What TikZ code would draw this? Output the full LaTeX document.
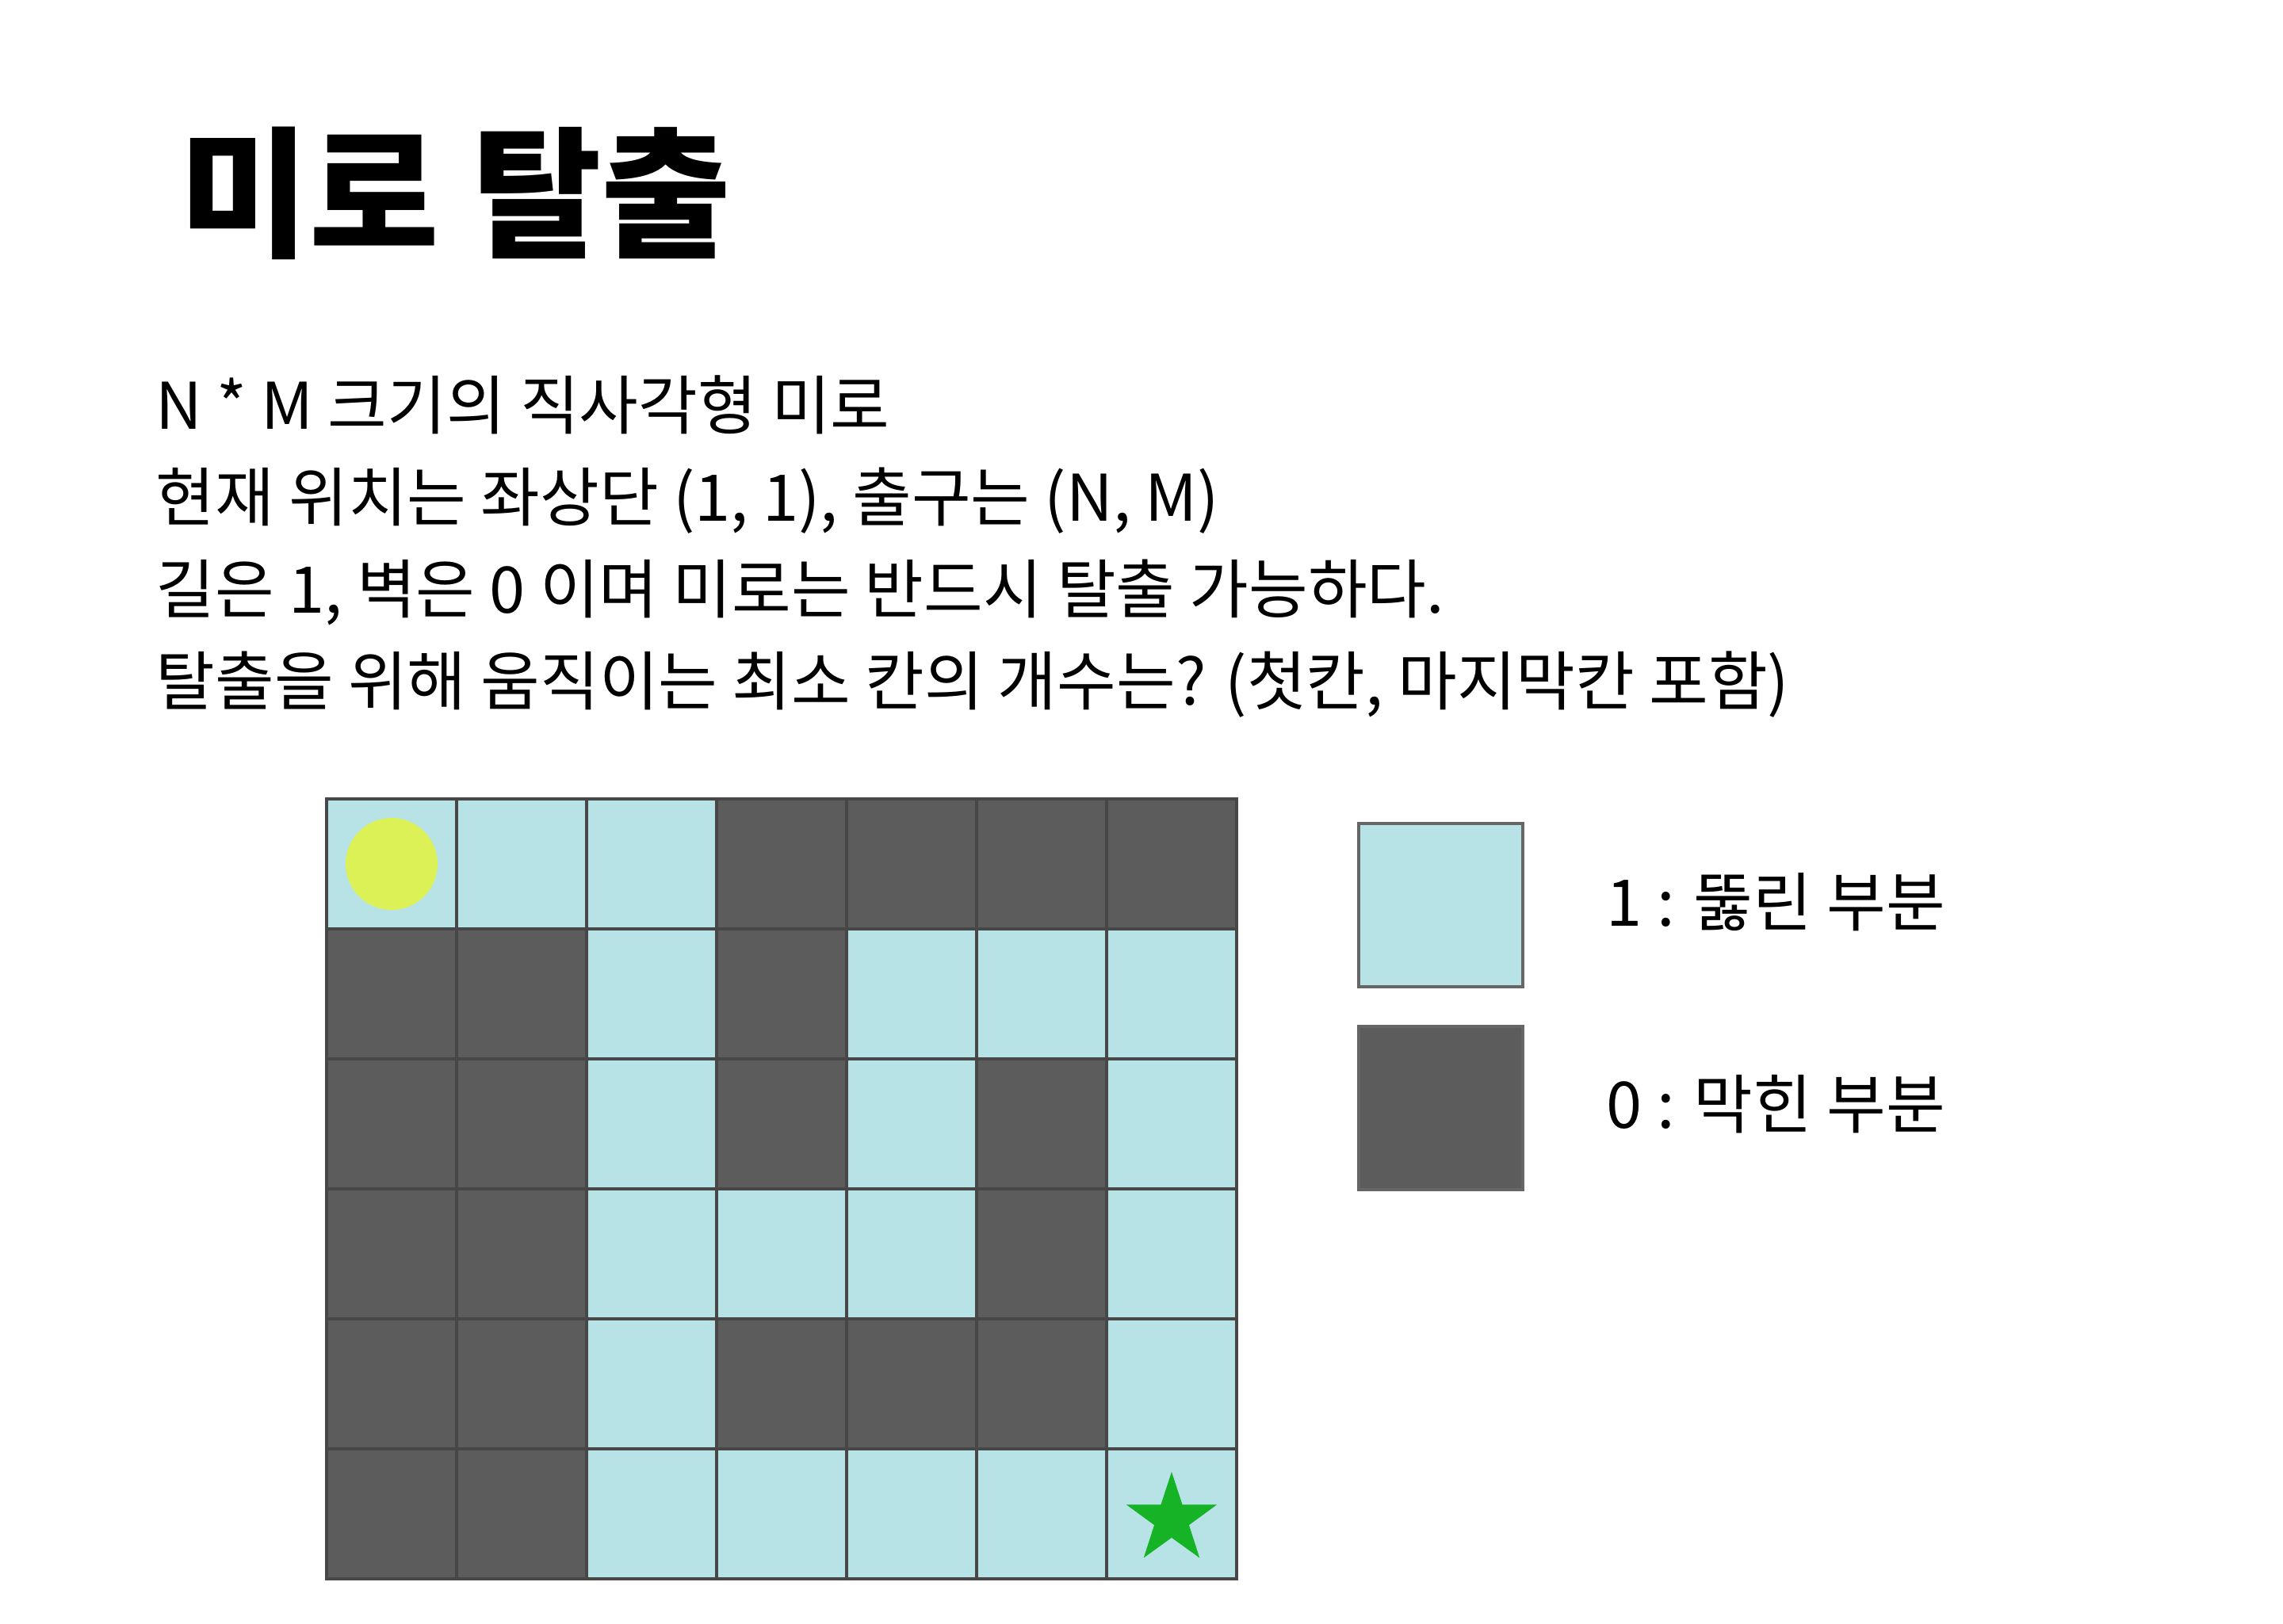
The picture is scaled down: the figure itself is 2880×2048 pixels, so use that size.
\documentclass[tikz,border=0pt]{standalone}
\usepackage{fontspec}
\setmainfont{Noto Sans CJK KR}
\usetikzlibrary{shapes.geometric}
\definecolor{opencell}{HTML}{B8E3E6}
\definecolor{wallcell}{HTML}{5C5C5C}
\definecolor{gridline}{HTML}{474747}
\definecolor{legline}{HTML}{666666}
\definecolor{startdot}{HTML}{DCF155}
\definecolor{goalstar}{HTML}{17B327}
\tikzset{
  cell/.style={draw=gridline, line width=0.8pt, minimum size=41pt, inner sep=0pt, outer sep=0pt},
  cell1/.style={fill=opencell},
  cell0/.style={fill=wallcell},
  legbox/.style={draw=legline, line width=0.8pt, minimum width=51.75pt, minimum height=51.5pt, inner sep=0pt},
  body/.style={anchor=base west, inner sep=0pt, font=\fontsize{20.3pt}{24pt}\selectfont},
  title/.style={anchor=base west, inner sep=0pt, font=\fontsize{44.5pt}{54pt}\selectfont\bfseries}
}
\begin{document}
\begin{tikzpicture}[x=0.25pt,y=-0.25pt]
\useasboundingbox (0,0) rectangle (2880,2048);
\fill[white] (0,0) rectangle (2880,2048);
\node[title] (ttl) at (226,310) {미로 탈출};
\node[body] (l1) at (196,541) {N * M 크기의 직사각형 미로};
\node[body] (l2) at (196,657) {현재 위치는 좌상단 (1, 1), 출구는 (N, M)};
\node[body] (l3) at (196,773) {길은 1, 벽은 0 이며 미로는 반드시 탈출 가능하다.};
\node[body] (l4) at (196,889) {탈출을 위해 움직이는 최소 칸의 개수는? (첫칸, 마지막칸 포함)};
\foreach \v [count=\i from 0] in {1,1,1,0,0,0,0, 0,0,1,0,1,1,1, 0,0,1,0,1,0,1, 0,0,1,1,1,0,1, 0,0,1,0,0,0,1, 0,0,1,1,1,1,1}{
  \pgfmathtruncatemacro\r{int(\i/7)}
  \pgfmathtruncatemacro\c{\i-7*\r}
  \node[cell, cell\v] (c-\r-\c) at ({494+164*\c},{1090+164*\r}) {};
}
\node[circle, fill=startdot, minimum size=29pt, inner sep=0pt] (start) at (c-0-0.center) {};
\node[star, star points=5, star point ratio=2.6, fill=goalstar, minimum size=30pt, inner sep=0pt] (goal) at (1478,1917) {};
\node[legbox, fill=opencell] (leg1) at (1817.5,1142) {};
\node[legbox, fill=wallcell] (leg0) at (1817.5,1398) {};
\node[body] (t1) at (2026,1168) {1 : 뚫린 부분};
\node[body] (t0) at (2026,1423) {0 : 막힌 부분};
\end{tikzpicture}
\end{document}
